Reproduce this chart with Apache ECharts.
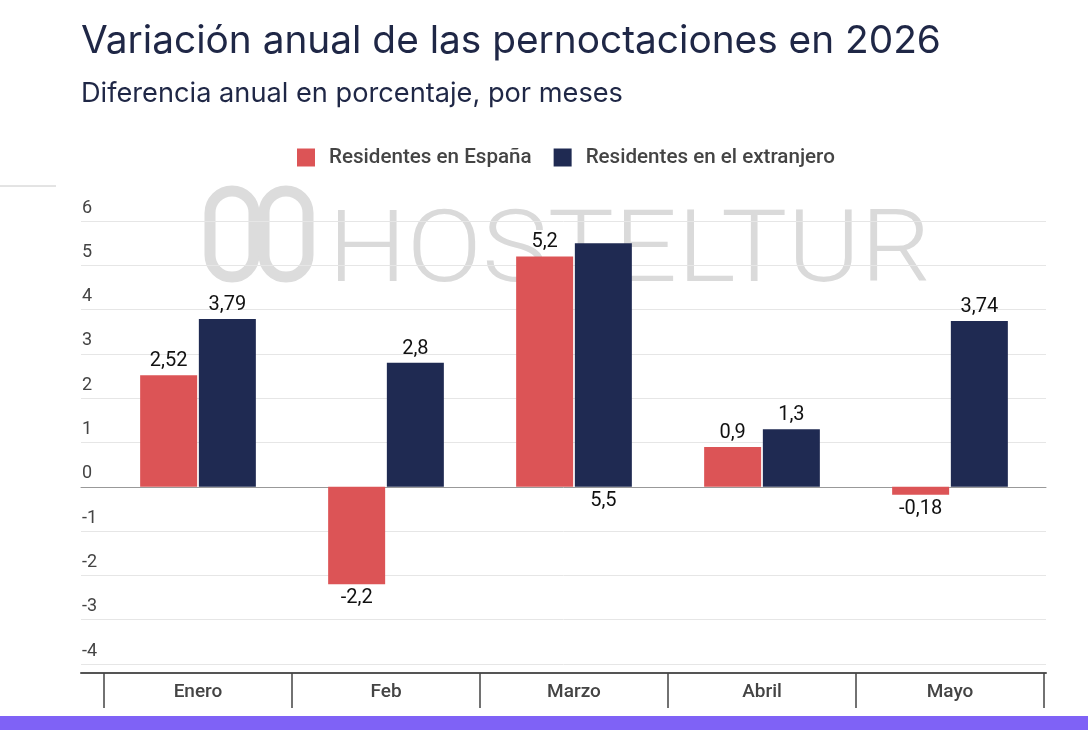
<!DOCTYPE html>
<html>
<head>
<meta charset="utf-8">
<script src="https://cdn.jsdelivr.net/npm/echarts@6/dist/echarts.min.js"></script>
<style>
  html, body { margin: 0; padding: 0; background: #fff; }
  #chart { width: 1088px; height: 730px; }
</style>
</head>
<body>
<div id="chart"></div>
<script>
'use strict';

var months = ['Enero', 'Feb', 'Marzo', 'Abril', 'Mayo'];
var espana = [2.52, -2.2, 5.2, 0.9, -0.18];
var extranjero = [3.79, 2.8, 5.5, 1.3, 3.74];
// punto cuya etiqueta va bajo la base de la barra
var labelBelow = { 2: true };

var RED = '#dc5456';
var NAVY = '#1f2a52';

function fmt(v) {
  return String(v).replace('.', ',');
}

var labelStyle = {
  show: true,
  color: '#111',
  fontFamily: 'Roboto',
  fontSize: 20,
  distance: 4,
  formatter: function (p) { return fmt(p.value); }
};

function barData(values, below) {
  return values.map(function (v, i) {
    var pos = v < 0 ? 'bottom' : 'top';
    if (below && below[i]) pos = 'bottom';
    return { value: v, label: { position: pos } };
  });
}

var myChart = echarts.init(document.getElementById('chart'));

var option = {
  backgroundColor: '#fff',
  animation: false,
  title: [{
    text: 'Variación anual de las pernoctaciones en 2026',
    left: 76,
    top: 17,
    textStyle: { fontFamily: 'Inter', fontWeight: 400, fontSize: 38.8, color: '#1f2746' }
  }, {
    text: 'Diferencia anual en porcentaje, por meses',
    left: 76,
    top: 75,
    textStyle: { fontFamily: 'Inter', fontWeight: 400, fontSize: 27.2, color: '#1f2746' }
  }],
  legend: {
    top: 142,
    left: 292,
    itemWidth: 18,
    itemHeight: 18,
    itemGap: 22,
    icon: 'rect',
    textStyle: { fontFamily: 'Roboto', fontWeight: 500, fontSize: 20.6, color: '#444', padding: [0, 0, 0, 9] },
    data: ['Residentes en España', 'Residentes en el extranjero']
  },
  graphic: [{
    type: 'line', z: -1,
    shape: { x1: 0, y1: 186, x2: 56, y2: 186 },
    style: { stroke: '#c8c8c8', lineWidth: 1 }
  }, {
    type: 'rect', z: -1,
    shape: { x: 0, y: 716, width: 1088, height: 14 },
    style: { fill: '#7f62f6' }
  }, {
    type: 'rect', z: -1,
    shape: { x: 210, y: 191, width: 44, height: 86, r: 22 },
    style: { fill: 'none', stroke: '#dcdcdc', lineWidth: 11 }
  }, {
    type: 'rect', z: -1,
    shape: { x: 264, y: 191, width: 44, height: 86, r: 22 },
    style: { fill: 'none', stroke: '#dcdcdc', lineWidth: 11 }
  }, {
    type: 'text', z: -1,
    x: 328, y: 205,
    scaleX: 1.1,
    style: { text: 'HOSTELTUR', fontFamily: 'Roboto', fontWeight: 300, fontSize: 101, fill: '#dadada' }
  }],
  grid: [
    { left: 81, right: 42, top: 221, bottom: 66 },
    { left: 104, right: 44, top: 221, bottom: 66 }
  ],
  xAxis: [{
    gridIndex: 0, type: 'value', min: 0, max: 1, position: 'bottom',
    axisLine: { show: true, onZero: true, lineStyle: { color: '#999', width: 1 } },
    axisTick: { show: false }, axisLabel: { show: false }, splitLine: { show: false }
  }, {
    gridIndex: 0, type: 'value', min: 0, max: 1, position: 'bottom', offset: 9,
    axisLine: { show: true, onZero: false, lineStyle: { color: '#555', width: 2 } },
    axisTick: { show: false }, axisLabel: { show: false }, splitLine: { show: false }
  }, {
    gridIndex: 1, type: 'category', data: months, position: 'bottom', offset: 9,
    axisLine: { show: false, onZero: false },
    axisTick: { show: true, length: 35, lineStyle: { color: '#444', width: 1.5 } },
    axisLabel: { margin: 10, fontFamily: 'Roboto', fontWeight: 500, fontSize: 19, color: '#444' },
    splitLine: { show: false }
  }],
  yAxis: [{
    gridIndex: 0, type: 'value', min: -4, max: 6, interval: 1,
    axisLine: { show: false }, axisTick: { show: false },
    axisLabel: {
      inside: true, margin: 1, verticalAlign: 'bottom', padding: [0, 0, 4, 0],
      fontFamily: 'Roboto', fontSize: 18, color: '#444'
    },
    splitLine: { lineStyle: { color: '#e6e6e6', width: 1 } }
  }, {
    gridIndex: 1, type: 'value', min: -4, max: 6, interval: 1, show: false
  }],
  series: [{
    name: 'Residentes en España',
    type: 'bar',
    xAxisIndex: 2, yAxisIndex: 1,
    barWidth: 57,
    barGap: '3%',
    itemStyle: { color: RED },
    label: labelStyle,
    data: barData(espana)
  }, {
    name: 'Residentes en el extranjero',
    type: 'bar',
    xAxisIndex: 2, yAxisIndex: 1,
    barWidth: 57,
    barGap: '3%',
    itemStyle: { color: NAVY },
    label: labelStyle,
    data: barData(extranjero, labelBelow)
  }]
};

myChart.setOption(option);
</script>
</body>
</html>
